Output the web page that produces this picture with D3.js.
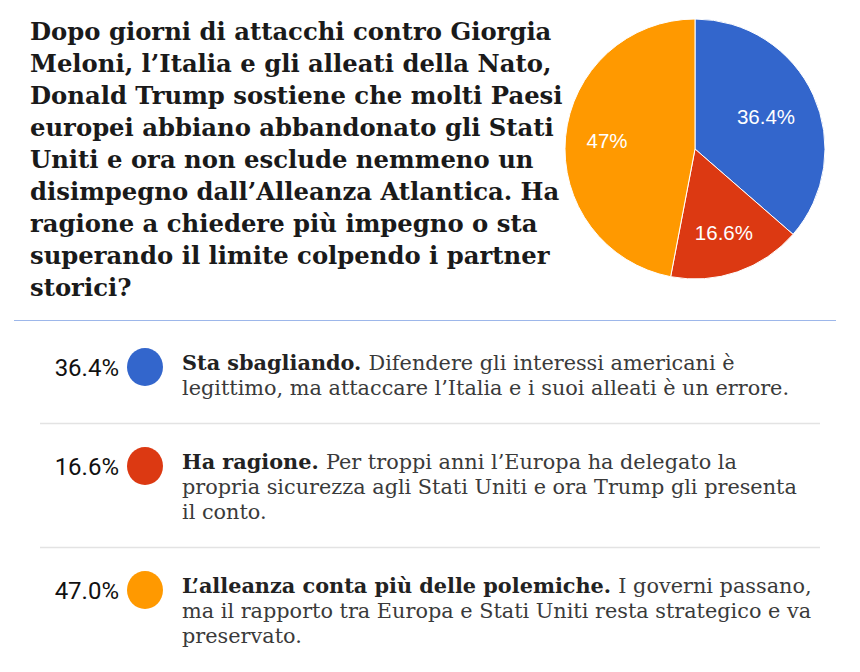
<!DOCTYPE html>
<html><head><meta charset="utf-8">
<script src="https://cdn.jsdelivr.net/npm/d3@7"></script>
<style>body{margin:0;background:#fff}</style>
</head><body>
<svg id="c" width="860" height="672"></svg>
<script>
const titleLines = [
  "Dopo giorni di attacchi contro Giorgia",
  "Meloni, l’Italia e gli alleati della Nato,",
  "Donald Trump sostiene che molti Paesi",
  "europei abbiano abbandonato gli Stati",
  "Uniti e ora non esclude nemmeno un",
  "disimpegno dall’Alleanza Atlantica. Ha",
  "ragione a chiedere più impegno o sta",
  "superando il limite colpendo i partner",
  "storici?"
];
const categories = ["Sta sbagliando.", "Ha ragione.", "L’alleanza conta più delle polemiche."];
const values = [36.4, 16.6, 47.0];
const pieLabels = ["36.4%", "16.6%", "47%"];
const rowLabels = ["36.4%", "16.6%", "47.0%"];
const colors = ["#3366cc", "#dc3912", "#ff9900"];
const descriptions = [
  ["Difendere gli interessi americani è", "legittimo, ma attaccare l’Italia e i suoi alleati è un errore."],
  ["Per troppi anni l’Europa ha delegato la", "propria sicurezza agli Stati Uniti e ora Trump gli presenta", "il conto."],
  ["I governi passano,", "ma il rapporto tra Europa e Stati Uniti resta strategico e va", "preservato."]
];

const svg = d3.select("#c");
const serif = "'DejaVu Serif', serif";

// Title
const title = svg.append("text").attr("x", 30).attr("y", 40)
  .attr("font-family", serif).attr("font-weight", "bold").attr("font-size", 24.3)
  .attr("fill", "#1a1a1a");
title.selectAll("tspan").data(titleLines).join("tspan")
  .attr("x", 30).attr("dy", (d, i) => i === 0 ? 0 : 32).text(d => d);

// Pie
const cx = 695, cy = 149, R = 130;
const pie = d3.pie().sort(null).value(d => d)(values);
const arc = d3.arc().innerRadius(0).outerRadius(R);
const g = svg.append("g").attr("transform", `translate(${cx},${cy})`);
g.selectAll("path").data(pie).join("path")
  .attr("d", arc).attr("fill", (d, i) => colors[i])
  .attr("stroke", "#fff").attr("stroke-width", 1);
const labelR = [0.6, 0.68, 0.68];
g.selectAll("text").data(pie).join("text")
  .attr("transform", (d, i) => {
    const a = d3.arc().innerRadius(R * labelR[i]).outerRadius(R * labelR[i]);
    return `translate(${a.centroid(d)})`;
  })
  .attr("text-anchor", "middle").attr("dy", "0.36em")
  .attr("font-family", "'Liberation Sans', Arial, sans-serif").attr("font-size", 20.5)
  .attr("fill", "#fff").text((d, i) => pieLabels[i]);

// Separator
svg.append("line").attr("x1", 14).attr("x2", 836).attr("y1", 320.5).attr("y2", 320.5)
  .attr("stroke", "#9db7ea").attr("stroke-width", 1);

// Rows
const rowY = d3.scaleOrdinal().domain(categories).range([367, 466, 590]);
const dividers = [423, 547];
svg.selectAll("line.div").data(dividers).join("line").attr("class", "div")
  .attr("x1", 40).attr("x2", 820).attr("y1", d => d + 0.5).attr("y2", d => d + 0.5)
  .attr("stroke", "#e3e3e3").attr("stroke-width", 1.5);

const rows = svg.selectAll("g.row").data(categories).join("g").attr("class", "row")
  .attr("transform", d => `translate(0,${rowY(d)})`);
rows.append("text").attr("x", 119).attr("y", 0).attr("dy", "0.36em")
  .attr("text-anchor", "end")
  .attr("font-family", "Roboto, 'Liberation Sans', sans-serif")
  .attr("font-size", 24).attr("fill", "#111")
  .text((d, i) => rowLabels[i]);
rows.append("ellipse").attr("cx", 145).attr("cy", 0).attr("rx", 18).attr("ry", 19)
  .attr("fill", (d, i) => colors[i]);
const body = rows.append("text").attr("x", 182).attr("y", 3)
  .attr("font-family", serif)
  .attr("font-size", 20.8).attr("fill", "#3a3a3a");
body.each(function(d, i) {
  const t = d3.select(this);
  descriptions[i].forEach((line, j) => {
    const ts = t.append("tspan").attr("x", 182).attr("dy", j === 0 ? 0 : 25);
    if (j === 0) {
      ts.append("tspan").attr("font-weight", "bold").attr("fill", "#222").text(d + " ");
      ts.append("tspan").text(line);
    } else ts.text(line);
  });
});
</script>
</body></html>
